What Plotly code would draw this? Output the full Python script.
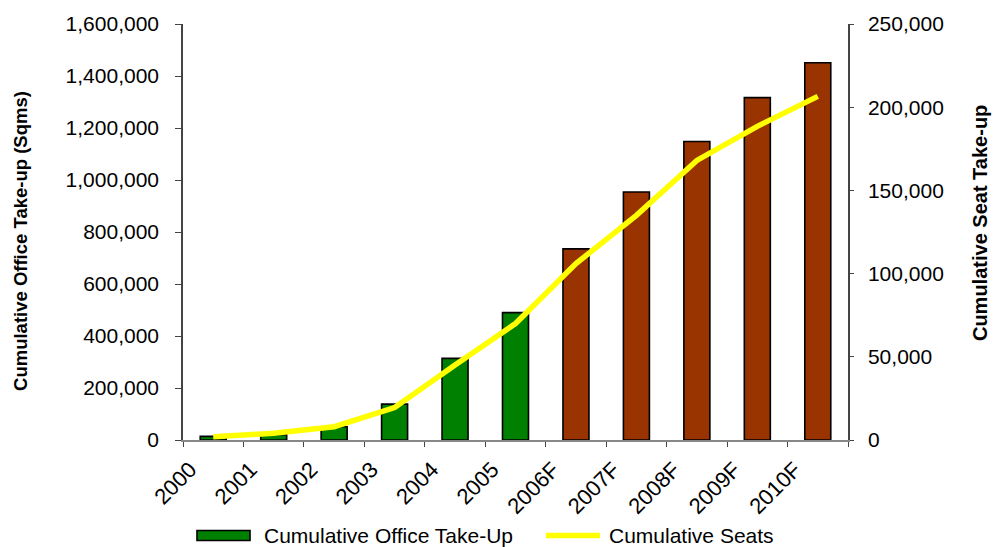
import plotly.graph_objects as go

# Annual series: cumulative office take-up (sqm) and cumulative seats
years = ["2000", "2001", "2002", "2003", "2004", "2005",
         "2006F", "2007F", "2008F", "2009F", "2010F"]
office_takeup = [14000, 20000, 51000, 138000, 314000, 490000,
                 735000, 954000, 1148000, 1317000, 1451000]
seats = [2000, 4000, 8000, 19500, 45000, 70000,
         106000, 135000, 168000, 188500, 206500]

left_ticks = [0, 200000, 400000, 600000, 800000, 1000000, 1200000, 1400000, 1600000]
right_ticks = [0, 50000, 100000, 150000, 200000, 250000]

GREEN = "#008000"
BROWN = "#993300"
YELLOW = "#FFFF00"

# forecast years (suffix "F") are drawn in brown
bar_colors = [BROWN if y.endswith("F") else GREEN for y in years]

W, H = 993, 547
L, R, T, B = 183, 145, 22, 107
plot_w = W - L - R
plot_h = H - T - B

def px_x(px):
    return (px - L) / plot_w

def px_y(py):
    return (H - B - py) / plot_h

TICK_FONT = dict(family="Liberation Sans, Arial, sans-serif", size=21, color="#000000")
TITLE_FAMILY = "Liberation Sans Narrow, Arial Narrow, Liberation Sans, Arial, sans-serif"

fig = go.Figure()

fig.add_trace(go.Bar(
    x=years, y=office_takeup,
    marker=dict(color=bar_colors, line=dict(color="#000000", width=1.6)),
    width=0.43,
    name="Cumulative Office Take-Up",
    showlegend=False,
    yaxis="y",
))

fig.add_trace(go.Scatter(
    x=years, y=seats,
    mode="lines",
    line=dict(color=YELLOW, width=5.5),
    name="Cumulative Seats",
    showlegend=False,
    yaxis="y2",
))

axis_line = "#444444"

fig.update_layout(
    width=W, height=H,
    margin=dict(l=L, r=R, t=T, b=B, pad=0),
    paper_bgcolor="white",
    plot_bgcolor="white",
    showlegend=False,
    xaxis=dict(
        type="category",
        tickson="boundaries",
        ticks="outside", ticklen=5, tickcolor="#444444", tickwidth=1,
        showline=True, linecolor="#888888", linewidth=2,
        showgrid=False, zeroline=False,
        tickangle=-45,
        tickfont=dict(family="Liberation Sans, Arial, sans-serif", size=22, color="#000000"),
        ticklabelshift=-23,
        ticklabelstandoff=6,
    ),
    yaxis=dict(
        range=[0, 1600000],
        tickvals=left_ticks,
        tickformat=",d",
        ticks="outside", ticklen=6, tickcolor="#444444",
        showline=True, linecolor=axis_line, linewidth=1.5,
        showgrid=False, zeroline=False,
        tickfont=TICK_FONT,
        ticklabelstandoff=12,
    ),
    yaxis2=dict(
        range=[0, 250000],
        tickvals=right_ticks,
        tickformat=",d",
        overlaying="y", side="right",
        ticks="outside", ticklen=4, tickcolor="#444444",
        showline=True, linecolor=axis_line, linewidth=1.5,
        showgrid=False, zeroline=False,
        tickfont=TICK_FONT,
        ticklabelstandoff=10,
    ),
    # inner halves of the crossing tick marks on both value axes
    yaxis3=dict(
        range=[0, 1600000], tickvals=left_ticks,
        overlaying="y", side="left",
        ticks="inside", ticklen=6, tickcolor="#444444",
        showticklabels=False, showline=False, showgrid=False, zeroline=False,
    ),
    yaxis4=dict(
        range=[0, 250000], tickvals=right_ticks,
        overlaying="y", side="right",
        ticks="inside", ticklen=6, tickcolor="#444444",
        showticklabels=False, showline=False, showgrid=False, zeroline=False,
    ),
)

# axis titles
fig.add_annotation(
    text="Cumulative Office Take-up (Sqms)",
    xref="paper", yref="paper", x=px_x(21), y=px_y(240),
    xanchor="center", yanchor="middle", textangle=-90,
    showarrow=False,
    font=dict(family=TITLE_FAMILY, size=18.5, color="#000000", weight="bold"),
)
fig.add_annotation(
    text="Cumulative Seat Take-up",
    xref="paper", yref="paper", x=px_x(980), y=px_y(222),
    xanchor="center", yanchor="middle", textangle=-90,
    showarrow=False,
    font=dict(family=TITLE_FAMILY, size=20, color="#000000", weight="bold"),
)

# legend row below the category labels
LEG_Y = 536
LEG_FONT = dict(family="Liberation Sans, Arial, sans-serif", size=21, color="#000000")
fig.add_shape(
    type="rect", xref="paper", yref="paper",
    x0=px_x(197), x1=px_x(250), y0=px_y(LEG_Y + 5), y1=px_y(LEG_Y - 5),
    fillcolor=GREEN, line=dict(color="#000000", width=1.6),
)
fig.add_annotation(
    text="Cumulative Office Take-Up",
    xref="paper", yref="paper", x=px_x(262), y=px_y(LEG_Y),
    xanchor="left", yanchor="middle", showarrow=False, font=LEG_FONT,
)
fig.add_shape(
    type="line", xref="paper", yref="paper",
    x0=px_x(546), x1=px_x(600), y0=px_y(LEG_Y), y1=px_y(LEG_Y),
    line=dict(color=YELLOW, width=5.5),
)
fig.add_annotation(
    text="Cumulative Seats",
    xref="paper", yref="paper", x=px_x(607), y=px_y(LEG_Y),
    xanchor="left", yanchor="middle", showarrow=False, font=LEG_FONT,
)

fig.write_html("out.html")
